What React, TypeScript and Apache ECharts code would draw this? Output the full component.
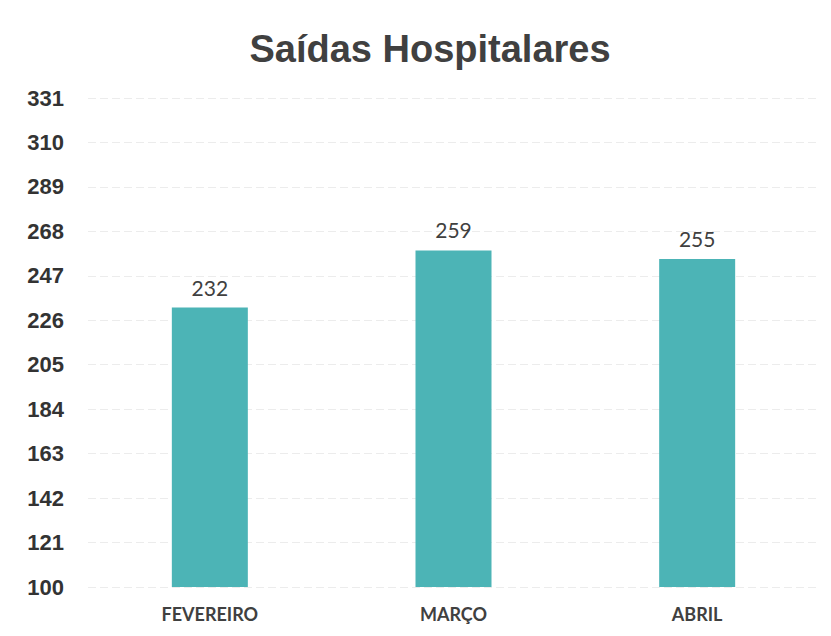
import React, { useEffect, useRef } from "react";
import * as echarts from "echarts";

const categories = ["FEVEREIRO", "MARÇO", "ABRIL"];
const values = [232, 259, 255];
const yMin = 100;
const yMax = 331;
const yStep = 21;

export default function App() {
  const ref = useRef<HTMLDivElement>(null);
  useEffect(() => {
    const chart = echarts.init(ref.current!, null, { renderer: "svg" });
    chart.setOption({
      animation: false,
      backgroundColor: "#ffffff",
      title: {
        text: "Saídas Hospitalares",
        left: 425,
        textAlign: "center",
        top: 25,
        textStyle: {
          fontFamily: "Liberation Sans, Arial, sans-serif",
          fontWeight: 900,
          fontSize: 38,
          color: "#404040",
        },
      },
      grid: { left: 88, right: 12, top: 98, bottom: 49 },
      xAxis: {
        type: "category",
        data: categories,
        axisLine: { show: false },
        axisTick: { show: false },
        axisLabel: {
          margin: 18,
          fontFamily: "Lato, sans-serif",
          fontWeight: "bold",
          fontSize: 18,
          color: "#404040",
        },
      },
      yAxis: {
        type: "value",
        min: yMin,
        max: yMax,
        interval: yStep,
        axisLine: { show: false },
        axisTick: { show: false },
        axisLabel: {
          margin: 24,
          fontFamily: "Liberation Sans, Arial, sans-serif",
          fontWeight: "bold",
          fontSize: 22,
          color: "#333333",
        },
        splitLine: {
          show: true,
          lineStyle: { color: "#ececec", type: [8, 4], width: 1 },
        },
      },
      series: [
        {
          type: "bar",
          data: values,
          barWidth: 76,
          itemStyle: { color: "#4cb4b6" },
          label: {
            show: true,
            position: "top",
            distance: 10,
            fontFamily: "Lato, sans-serif",
            fontSize: 21,
            color: "#404040",
          },
        },
      ],
    });
    return () => chart.dispose();
  }, []);
  return (
    <div
      ref={ref}
      style={{ position: "absolute", left: 0, top: 0, width: 831, height: 636 }}
    />
  );
}
